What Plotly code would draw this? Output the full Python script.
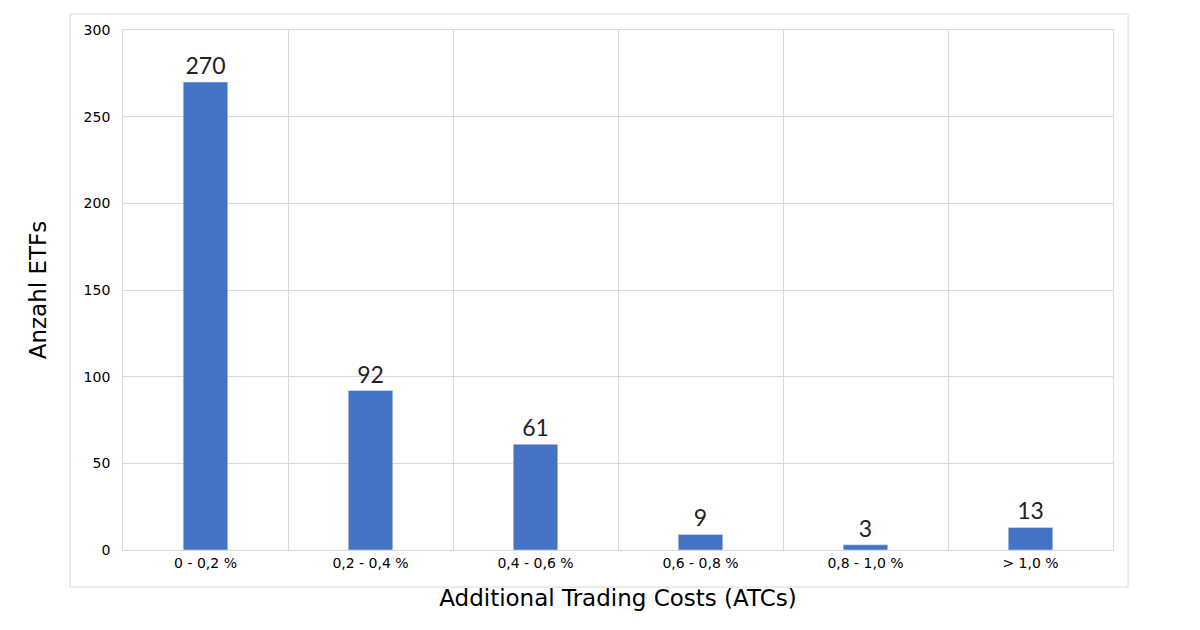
import plotly.graph_objects as go

categories = ["0 - 0,2 %", "0,2 - 0,4 %", "0,4 - 0,6 %", "0,6 - 0,8 %", "0,8 - 1,0 %", "> 1,0 %"]
anzahl = [270, 92, 61, 9, 3, 13]

fig = go.Figure(go.Bar(
    x=categories, y=anzahl, width=0.27,
    marker=dict(color="#4472c4"),
    text=anzahl, textposition="outside", cliponaxis=False,
    textfont=dict(family="Lato, sans-serif", size=23, color="#222"),
))

fig.update_layout(
    width=1200, height=630,
    paper_bgcolor="white", plot_bgcolor="white",
    margin=dict(l=115, r=95, t=22, b=88),
    showlegend=False,
    font=dict(family="DejaVu Sans, Verdana, sans-serif", color="#000"),
)
fig.update_xaxes(
    tickson="boundaries", showgrid=True, gridcolor="#d9d9d9",
    showline=True, linecolor="#d9d9d9", mirror=True, ticks="",
    tickfont=dict(size=14),
    title=dict(text="Additional Trading Costs (ATCs)", standoff=20,
               font=dict(family="Verdana, DejaVu Sans, sans-serif", size=23)),
)
fig.update_yaxes(
    range=[0, 300], dtick=50, showgrid=True, gridcolor="#d9d9d9",
    showline=True, linecolor="#d9d9d9", mirror=True, zeroline=False,
    tickfont=dict(size=14), ticksuffix="  ",
    title=dict(text="Anzahl ETFs", standoff=30,
               font=dict(family="Verdana, DejaVu Sans, sans-serif", size=23)),
)
fig.add_shape(type="rect", xref="paper", yref="paper",
              x0=-0.0535, x1=1.0152, y0=-0.0712, y1=1.0308,
              line=dict(color="#d9d9d9", width=1), layer="below")

fig.write_html("out.html")
